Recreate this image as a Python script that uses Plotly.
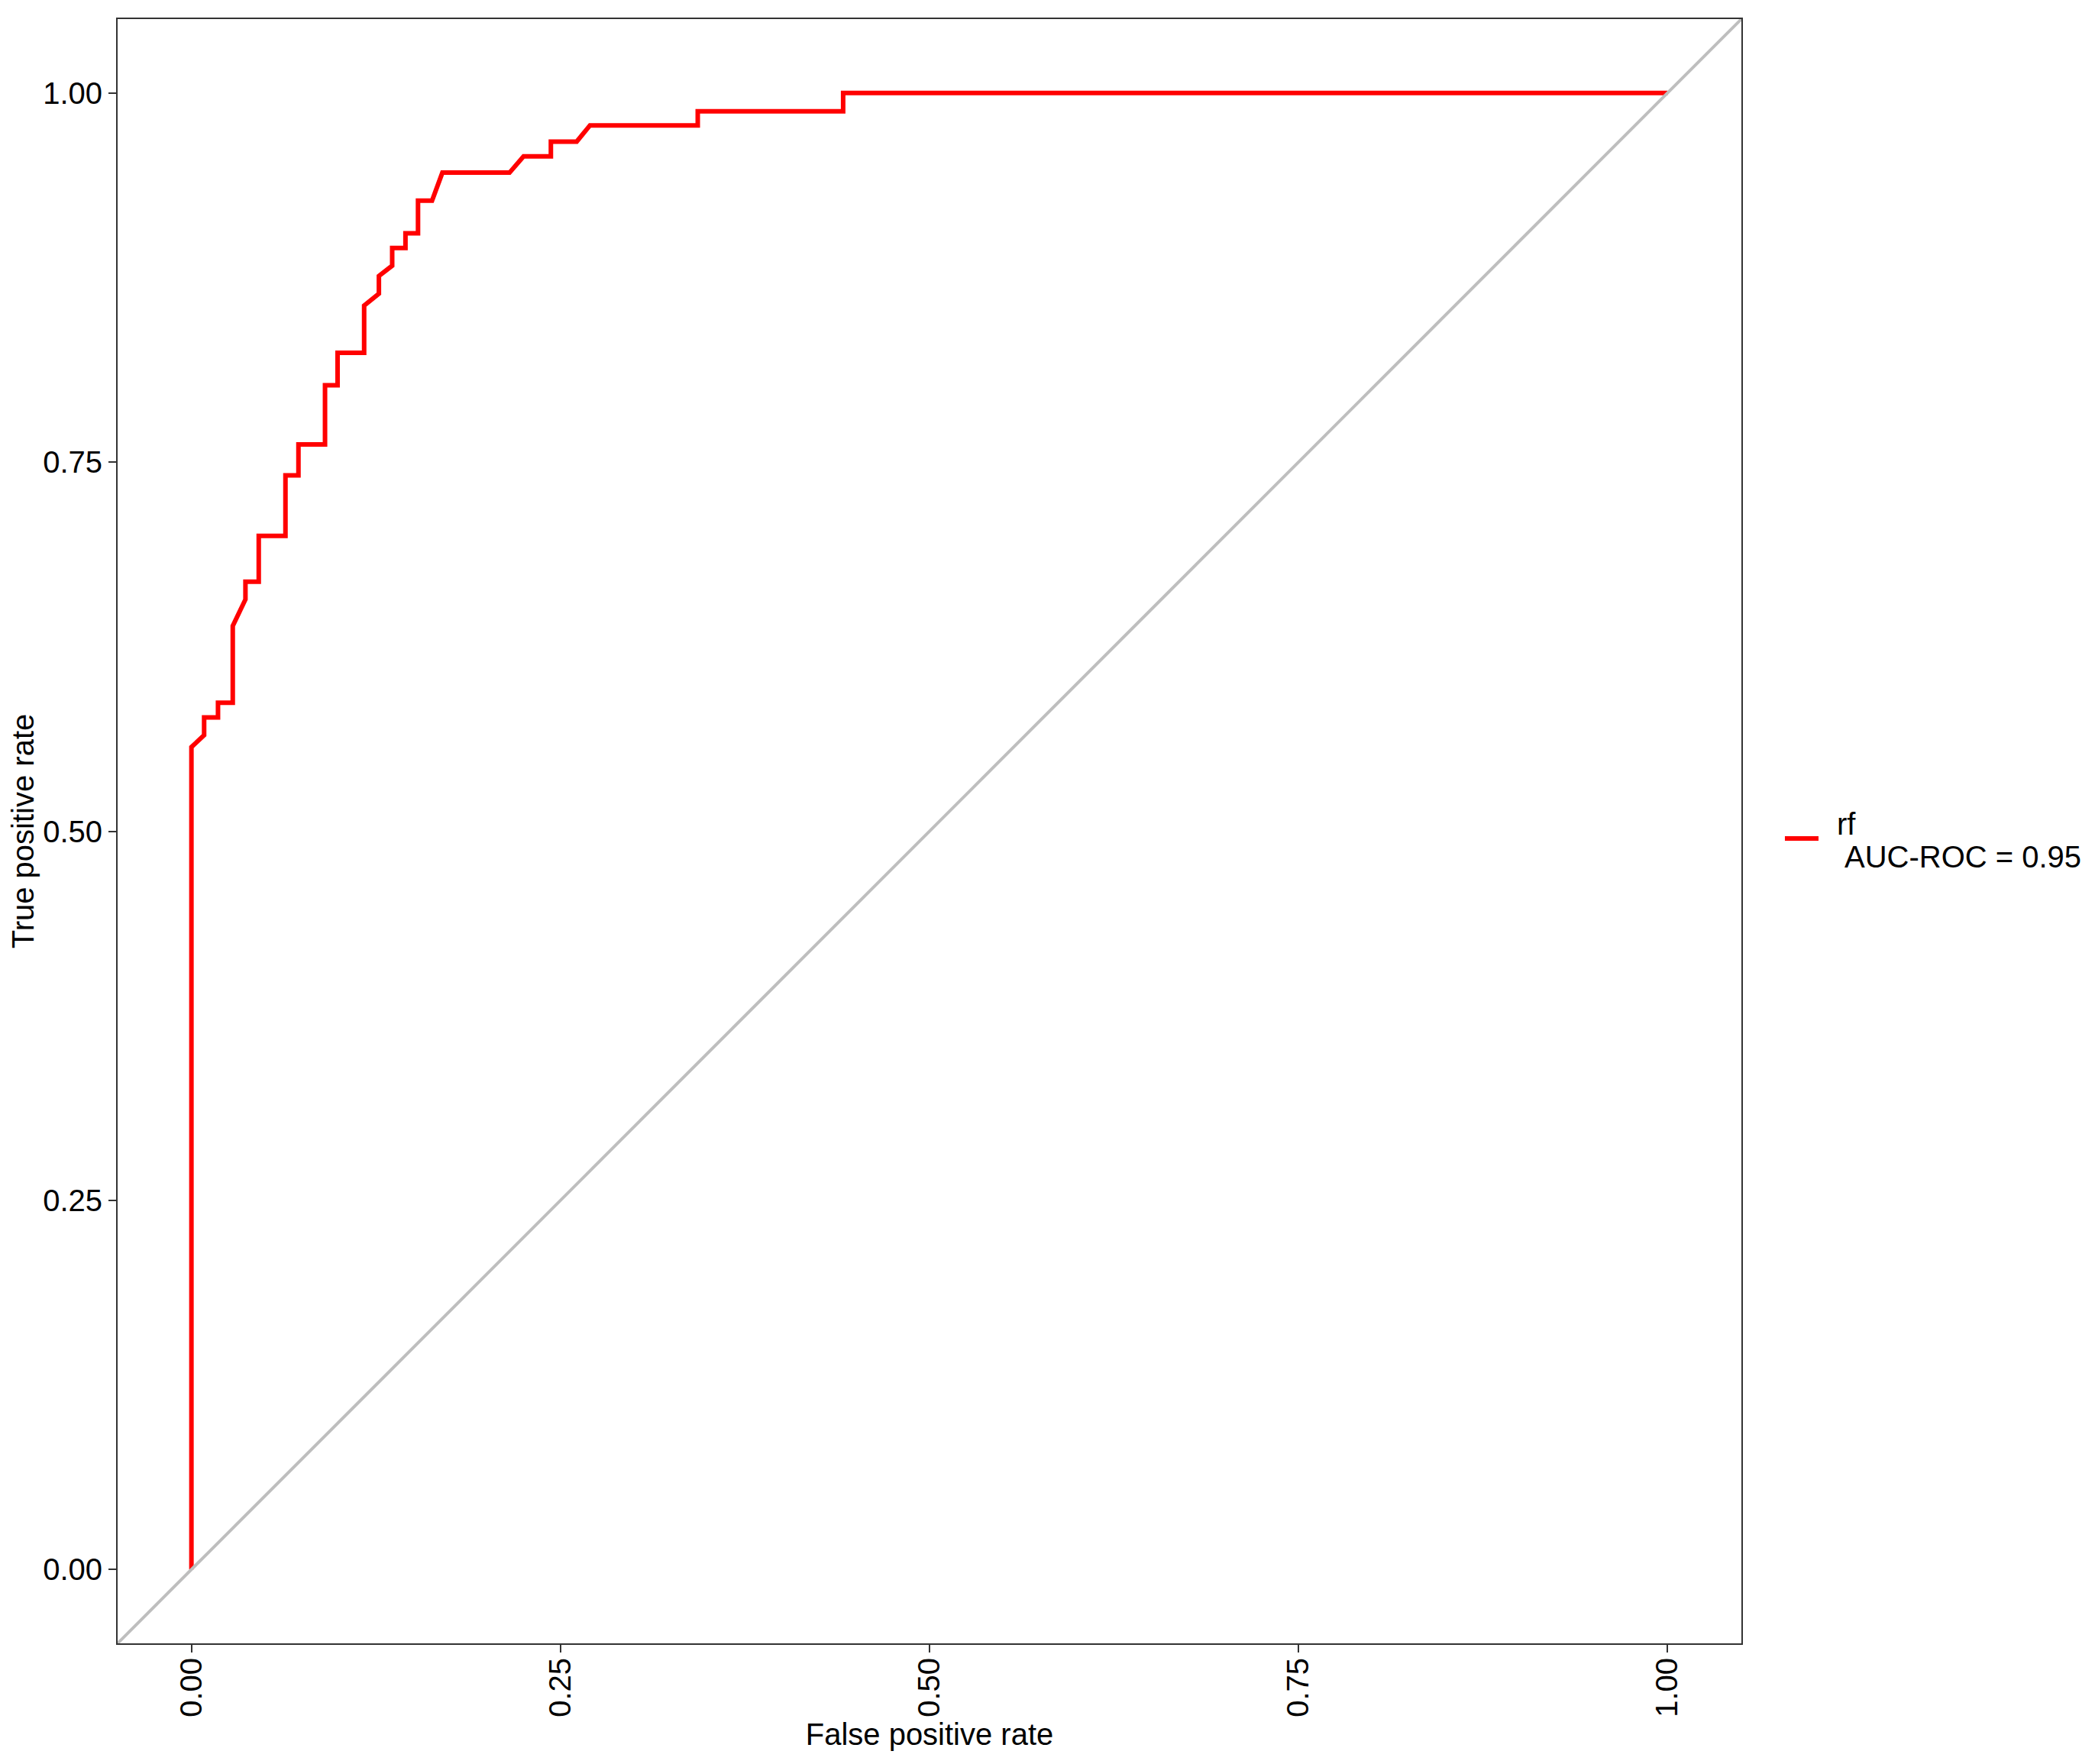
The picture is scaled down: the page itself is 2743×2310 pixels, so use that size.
"""
ROC curve for the random forest model.
"""

import plotly.graph_objects as go

# ROC curve vertices
fpr = [0, 0, 0.0086, 0.0086, 0.018, 0.018, 0.028, 0.028, 0.0366, 0.0366,
       0.0456, 0.0456, 0.0637, 0.0637, 0.0725, 0.0725, 0.0905, 0.0905, 0.099, 0.099,
       0.117, 0.117, 0.127, 0.127, 0.136, 0.136, 0.145, 0.145, 0.1535, 0.1535,
       0.163, 0.170, 0.2155, 0.225, 0.2435, 0.2435, 0.261, 0.270, 0.343, 0.343,
       0.4415, 0.4415, 1.0]
tpr = [0, 0.557, 0.565, 0.577, 0.577, 0.587, 0.587, 0.639, 0.657, 0.669,
       0.669, 0.700, 0.700, 0.741, 0.741, 0.762, 0.762, 0.802, 0.802, 0.824,
       0.824, 0.856, 0.864, 0.876, 0.883, 0.895, 0.895, 0.905, 0.905, 0.927,
       0.927, 0.946, 0.946, 0.957, 0.957, 0.967, 0.967, 0.978, 0.978, 0.9876,
       0.9876, 1.0, 1.0]

model_name = "rf"
auc_label = "AUC-ROC = 0.95"

axis_range = [-0.05, 1.05]
tick_vals = [0, 0.25, 0.5, 0.75, 1.0]
tick_text = ["0.00", "0.25", "0.50", "0.75", "1.00"]

FONT = "Liberation Sans, Arial, sans-serif"
RED = '#FF0000'

fig = go.Figure()

fig.add_trace(go.Scatter(
    x=fpr, y=tpr,
    mode='lines',
    line=dict(color=RED, width=6),
    name=model_name,
    showlegend=False,
))

# chance diagonal, spanning the whole panel
fig.add_trace(go.Scatter(
    x=axis_range, y=axis_range,
    mode='lines',
    line=dict(color='#BEBEBE', width=4),
    showlegend=False,
    hoverinfo='skip',
))

axis_style = dict(
    range=axis_range,
    tickvals=tick_vals,
    ticktext=tick_text,
    showgrid=False,
    zeroline=False,
    showline=True,
    mirror=True,
    linecolor='#333333',
    linewidth=2,
    ticks='outside',
    ticklen=10,
    tickwidth=2,
    tickcolor='#333333',
    tickfont=dict(size=40, color='#000000', family=FONT),
)

fig.update_xaxes(
    **axis_style,
    tickangle=-90,
    ticklabelstandoff=-9,
    title=dict(text="False positive rate", font=dict(size=40, color='#000000', family=FONT), standoff=9),
)
fig.update_yaxes(
    **axis_style,
    title=dict(text="True positive rate", font=dict(size=40, color='#000000', family=FONT), standoff=1),
)

# ggplot-style legend drawn to the right of the panel
fig.add_shape(
    type='line', xref='paper', yref='paper',
    x0=1.0268, x1=1.0475, y0=0.4955, y1=0.4955,
    line=dict(color=RED, width=6),
)
fig.add_annotation(
    text=model_name, xref='paper', yref='paper',
    x=1.0578, y=0.5045, xanchor='left', yanchor='middle',
    showarrow=False, font=dict(size=40, color='#000000', family=FONT),
)
fig.add_annotation(
    text=auc_label, xref='paper', yref='paper',
    x=1.0625, y=0.4842, xanchor='left', yanchor='middle',
    showarrow=False, font=dict(size=40, color='#000000', family=FONT),
)

fig.update_layout(
    width=2727,
    height=2294,
    margin=dict(l=146, r=455, t=17, b=150),
    plot_bgcolor='white',
    paper_bgcolor='white',
    font=dict(family=FONT, size=40, color='#000000'),
    showlegend=False,
)

fig.write_html("out.html")
